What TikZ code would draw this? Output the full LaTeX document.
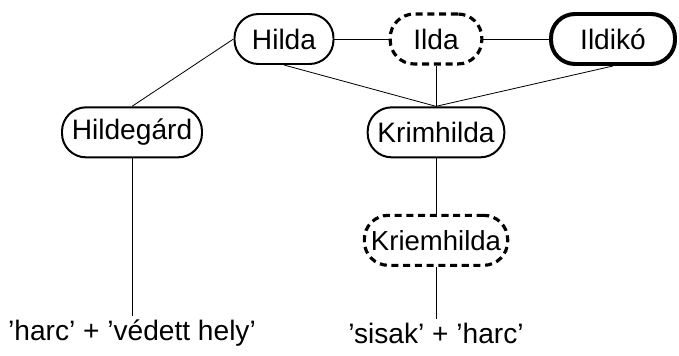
\documentclass[tikz,border=0pt]{standalone}
\usepackage{fontspec}
\setmainfont{Liberation Sans}
\begin{document}
\begin{tikzpicture}[
        node distance=2.88cm,
        namebox/.style={draw, line width=1.7pt, rounded corners=0.72cm, minimum height=1.5cm, font=\fontsize{24}{28}\selectfont},
        dashbox/.style={namebox, line width=2.7pt, dash pattern=on 6pt off 4pt},
        thickbox/.style={namebox, line width=3.4pt},
        meaning/.style={font=\fontsize{24}{28}\selectfont},
        edge/.style={line width=0.7pt}
    ]
        \useasboundingbox (0,0) rectangle (20.37,-10.68);

        % Top row
        \node[namebox, minimum width=2.97cm] (hilda) at (8.52,-1.17) {Hilda};
        \node[dashbox, minimum width=2.75cm, right of=hilda, node distance=4.56cm] (ilda) {Ilda};
        \node[thickbox, minimum width=3.72cm, right of=ilda, node distance=5.31cm] (ildiko) {Ildikó};

        % Middle row
        \node[namebox, minimum width=4.2cm, below of=hilda, xshift=-4.56cm, node distance=2.8cm] (hildegard) {Hildegárd};
        \node[namebox, minimum width=4.1cm, below of=ilda, node distance=2.8cm] (krimhilda) {Krimhilda};
        \node[dashbox, minimum width=4.3cm, inner xsep=1pt, below of=krimhilda, node distance=3.24cm, font=\fontsize{23.5}{27}\selectfont] (kriemhilda) {Kriemhilda};

        % Meanings
        \node[meaning, below of=hildegard, node distance=6.03cm] (harc) {’harc’ + ’védett hely’};
        \node[meaning, below of=kriemhilda, node distance=2.79cm] (sisak) {’sisak’ + ’harc’};

        % Edges
        \draw[edge] (hilda) -- (ilda);
        \draw[edge] (ilda) -- (ildiko);
        \draw[edge] (hilda.west) -- (hildegard.north);
        \draw[edge] (hilda.south) -- (krimhilda.north);
        \draw[edge] (ilda) -- (krimhilda);
        \draw[edge] (ildiko.south) -- (krimhilda.north);
        \draw[edge] (krimhilda) -- (kriemhilda);
        \draw[edge] (kriemhilda) -- (sisak);
        \draw[edge] (hildegard) -- (harc);

    \end{tikzpicture}
\end{document}
